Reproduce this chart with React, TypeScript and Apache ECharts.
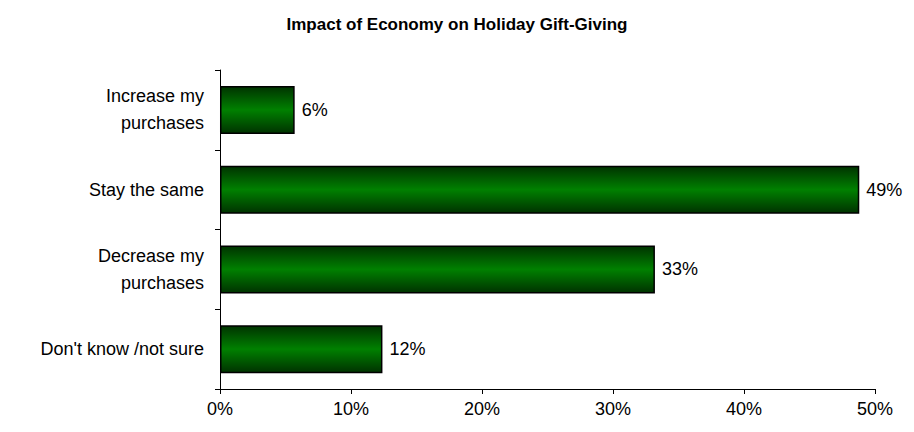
import React, { useEffect, useRef } from "react";
import * as echarts from "echarts";

const categories = ["Increase my\npurchases", "Stay the same", "Decrease my\npurchases", "Don't know /not sure"];
const values = [5.7, 48.8, 33.2, 12.4];
const valueLabels = ["6%", "49%", "33%", "12%"];
const xTicks = [0, 10, 20, 30, 40, 50];

export default function App() {
  const ref = useRef<HTMLDivElement>(null);
  useEffect(() => {
    if (!ref.current) return;
    const chart = echarts.init(ref.current, null, { renderer: "svg" });
    const font = "Liberation Sans, Arial, sans-serif";
    chart.setOption({
      animation: false,
      backgroundColor: "#ffffff",
      title: {
        text: "Impact of Economy on Holiday Gift-Giving",
        left: 452,
        textAlign: "center",
        top: 11,
        textStyle: { fontFamily: font, fontSize: 17, fontWeight: "bold", color: "#000" },
      },
      grid: { left: 220, right: 39, top: 70, bottom: 43, containLabel: false },
      xAxis: {
        type: "value",
        min: xTicks[0],
        max: xTicks[xTicks.length - 1],
        interval: 10,
        axisLine: { show: true, lineStyle: { color: "#000", width: 1 } },
        axisTick: { show: true, length: 5, lineStyle: { color: "#000" } },
        splitLine: { show: false },
        axisLabel: { formatter: "{value}%", fontFamily: font, fontSize: 18, color: "#000", margin: 11 },
      },
      yAxis: {
        type: "category",
        inverse: true,
        data: categories,
        axisLine: { show: true, lineStyle: { color: "#000", width: 1 } },
        axisTick: { show: true, length: 5, lineStyle: { color: "#000" } },
        axisLabel: { fontFamily: font, fontSize: 18, color: "#000", margin: 16, lineHeight: 27 },
      },
      series: [
        {
          type: "bar",
          data: values,
          barWidth: 48,
          itemStyle: {
            borderColor: "#000",
            borderWidth: 1.5,
            color: new echarts.graphic.LinearGradient(0, 0, 0, 1, [
              { offset: 0, color: "#003300" },
              { offset: 0.5, color: "#008000" },
              { offset: 1, color: "#003300" },
            ]),
          },
          label: {
            show: true,
            position: "right",
            distance: 7,
            formatter: (p: any) => valueLabels[p.dataIndex],
            fontFamily: font,
            fontSize: 18,
            color: "#000",
          },
        },
      ],
    });
    return () => chart.dispose();
  }, []);
  return <div ref={ref} style={{ position: "fixed", left: 0, top: 0, width: 914, height: 432 }} />;
}
